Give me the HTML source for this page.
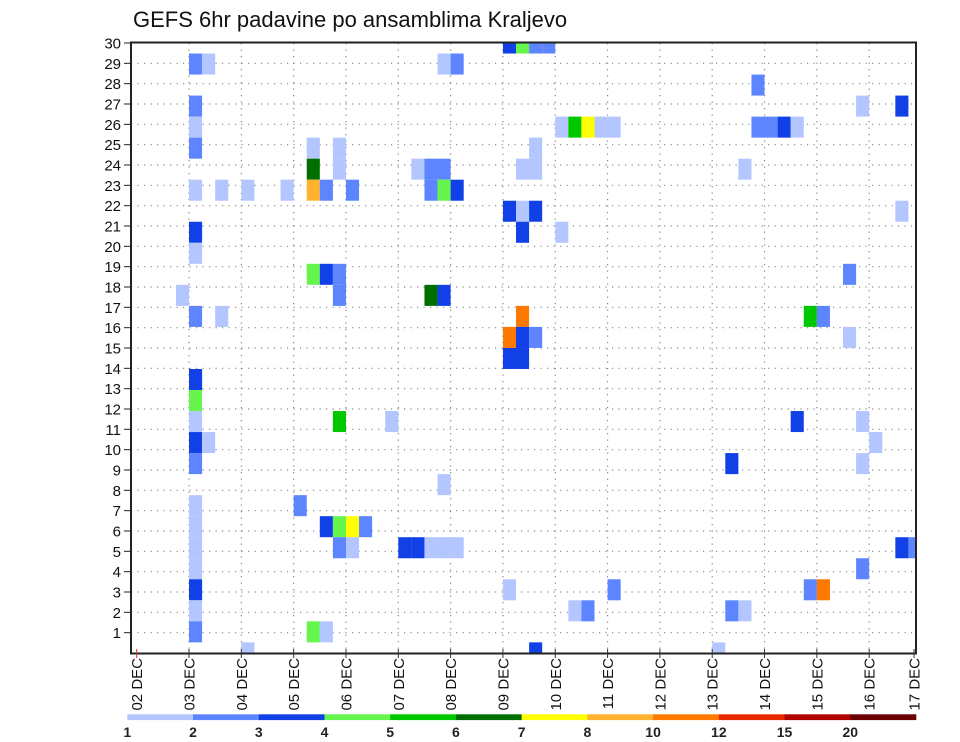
<!DOCTYPE html>
<html><head><meta charset="utf-8"><style>
html,body{margin:0;padding:0;background:#fff;}
svg{display:block;font-family:"Liberation Sans",sans-serif;}
</style></head><body>
<svg id="chart" width="960" height="742" viewBox="0 0 960 742" xmlns="http://www.w3.org/2000/svg">
<text x="133" y="27" font-size="22" fill="#111">GEFS 6hr padavine po ansamblima Kraljevo</text>
<g id="grid"></g>
<g id="cells"></g>
<rect x="131" y="42.5" width="785" height="611" fill="none" stroke="#222" stroke-width="2"/>
<g id="axes"></g>
<g id="cbar"></g>
</svg>
<script>
// 6-hour step index (0 = 02 DEC 00Z), ensemble slot (0 = top), precipitation mm
const times   = [28,29,30,31, 4,5,23,24, 47, 4,55,58, 4,32,33,34,35,36,47,48,49,50, 4,13,15,30, 13,15,21,22,23,29,30,46, 4,6,8,11,13,14,16,22,23,24, 28,29,30,58, 4,29,32, 4, 13,14,15,54, 3,15,22,23, 4,6,29,51,52, 28,29,30,54, 28,29, 4, 4, 4,15,19,50,55, 4,5,56, 4,45,55, 23, 4,12, 4,14,15,16,17, 4,15,16,20,21,22,23,24,58,59, 4,55, 4,28,36,51,52, 4,33,34,45,46, 4,13,14, 8,30,44];
const members = [0,0,0,0, 1,1,1,1, 2, 3,3,3, 4,4,4,4,4,4,4,4,4,4, 5,5,5,5, 6,6,6,6,6,6,6,6, 7,7,7,7,7,7,7,7,7,7, 8,8,8,8, 9,9,9, 10, 11,11,11,11, 12,12,12,12, 13,13,13,13,13, 14,14,14,14, 15,15, 16, 17, 18,18,18,18,18, 19,19,19, 20,20,20, 21, 22,22, 23,23,23,23,23, 24,24,24,24,24,24,24,24,24,24, 25,25, 26,26,26,26,26, 27,27,27,27,27, 28,28,28, 29,29,29];
const values  = [3.5,4.5,2.5,2.5, 2.5,1.5,1.5,2.5, 2.5, 2.5,1.5,3.5, 1.5,1.5,5.5,7.5,1.5,1.5,2.5,2.5,3.5,1.5, 2.5,1.5,1.5,1.5, 6.5,1.5,1.5,2.5,2.5,1.5,1.5,1.5, 1.5,1.5,1.5,1.5,9,2.5,2.5,2.5,4.5,3.5, 3.5,1.5,3.5,1.5, 3.5,3.5,1.5, 1.5, 4.5,3.5,2.5,2.5, 1.5,2.5,6.5,3.5, 2.5,1.5,11,5.5,2.5, 11,3.5,2.5,1.5, 3.5,3.5, 3.5, 4.5, 1.5,5.5,1.5,3.5,1.5, 3.5,1.5,1.5, 2.5,3.5,1.5, 1.5, 1.5,2.5, 1.5,3.5,4.5,7.5,2.5, 1.5,2.5,1.5,3.5,3.5,1.5,1.5,1.5,3.5,2.5, 1.5,2.5, 3.5,1.5,2.5,2.5,11, 1.5,1.5,2.5,2.5,1.5, 2.5,4.5,1.5, 1.5,3.5,1.5];
const levels  = [1,2,3,4,5,6,7,8,10,12,15,20];
const colors  = ["#b3c6ff","#5c85ff","#1040e6","#66f54c","#00c800","#006e00","#ffff00","#ffb22e","#ff7800","#e62800","#b00000","#6a0000"];
const dayLabels = ["02 DEC","03 DEC","04 DEC","05 DEC","06 DEC","07 DEC","08 DEC","09 DEC","10 DEC","11 DEC","12 DEC","13 DEC","14 DEC","15 DEC","16 DEC","17 DEC"];
const yTicks = [1,2,3,4,5,6,7,8,9,10,11,12,13,14,15,16,17,18,19,20,21,22,23,24,25,26,27,28,29,30];

const NS="http://www.w3.org/2000/svg";
const PL=131, PR=916, PT=43, PB=653;
const X0=136.7, DX=13.08, H=21.03, RH=(PB-PT)/30;
function xScale(k){return X0+k*DX;}
function slotTop(m){return m===0?PT:PT+(m-0.5)*H;}
function slotBot(m){return Math.min(PT+(m+0.5)*H,PB);}
function yTick(n){return PT+(30-n)*RH;}
function colorFor(v){let c=null;for(let i=0;i<levels.length;i++){if(v>=levels[i])c=colors[i];}return c;}
function mk(tag,attrs,parent){const e=document.createElementNS(NS,tag);for(const k in attrs)e.setAttribute(k,attrs[k]);parent.appendChild(e);return e;}

const grid=document.getElementById('grid');
for(let n=1;n<=29;n++){
  const l=mk('line',{x1:PL,x2:PR,y1:yTick(n),y2:yTick(n),stroke:'#888','stroke-width':1.2,'stroke-dasharray':'1.2,5.3'},grid);
  
  
}
for(let d=1;d<dayLabels.length-1;d++){
  const x=xScale(d*4);
  const l=mk('line',{x1:x,x2:x,y1:PT,y2:PB,stroke:'#888','stroke-width':1.2,'stroke-dasharray':'1.2,5.3'},grid);
  
  
}

const cells=document.getElementById('cells');
for(let i=0;i<values.length;i++){
  const x=xScale(times[i]);
  const w=Math.min(DX,PR-x);
  const y1=slotTop(members[i]), y2=slotBot(members[i]);
  const r=mk('rect',{x:x.toFixed(2),y:y1.toFixed(2),width:w.toFixed(2),height:(y2-y1).toFixed(2),fill:colorFor(values[i])},cells);
  
  
}

const axes=document.getElementById('axes');
yTicks.forEach(n=>{
  const y=yTick(n);
  const t=mk('line',{x1:124,x2:PL,y1:y,y2:y,stroke:'#222','stroke-width':1},axes);
  
  
  const tx=mk('text',{x:121,y:y+5.5,'font-size':15,'text-anchor':'end',fill:'#111'},axes);
  tx.textContent=String(n);
  
  
});
dayLabels.forEach((lab,d)=>{
  const x=Math.min(xScale(d*4),914);
  const t=mk('line',{x1:x,x2:x,y1:PB-4,y2:PB+5,stroke:d===0?'#c33':'#333','stroke-width':1},axes);
  
  
  const tx=mk('text',{x:0,y:0,'font-size':15,'text-anchor':'end',fill:'#111',transform:`translate(${x+5.5},${PB+5}) rotate(-90)`},axes);
  tx.textContent=lab;
  
  
});

const cbar=document.getElementById('cbar');
const CB0=127.3, CBW=(916-127.3)/levels.length;
levels.forEach((lv,i)=>{
  const r=mk('rect',{x:CB0+i*CBW,y:714.3,width:CBW+0.3,height:5.8,fill:colors[i]},cbar);
  
  
  const t=mk('text',{x:CB0+i*CBW,y:737,'font-size':14,'font-weight':'bold','text-anchor':'middle',fill:'#222'},cbar);
  t.textContent=String(lv);
  
  
});
</script>
</body></html>
